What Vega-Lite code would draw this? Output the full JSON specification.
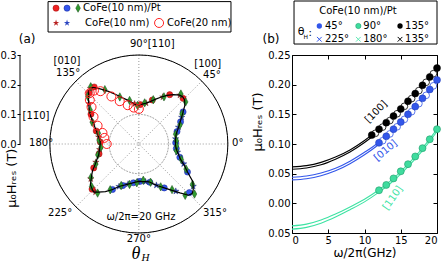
{
 "$schema": "https://vega.github.io/schema/vega-lite/v6.json",
 "padding": 0,
 "autosize": {"type": "pad"},
 "bounds": "flush",
 "spacing": 64,
 "config": {
  "font": "DejaVu Sans",
  "view": {"stroke": null},
  "axis": {"labelColor": "black", "titleColor": "black", "tickColor": "black", "domainColor": "black", "grid": false, "titleFontWeight": "normal", "labelFontSize": 10, "titleFontSize": 13, "labelFont": "DejaVu Sans", "titleFont": "DejaVu Sans"},
  "text": {"fontSize": 10, "color": "black", "font": "DejaVu Sans"}
 },
 "datasets": {
  "curve": [
   {"t":0,"r":0.123},{"t":5,"r":0.124},{"t":10,"r":0.126},{"t":15,"r":0.130},{"t":20,"r":0.139},{"t":25,"r":0.150},{"t":30,"r":0.163},{"t":35,"r":0.180},{"t":40,"r":0.202},{"t":44,"r":0.214},{"t":47,"r":0.217},{"t":50,"r":0.215},{"t":55,"r":0.203},{"t":60,"r":0.189},{"t":65,"r":0.174},{"t":70,"r":0.160},{"t":75,"r":0.148},{"t":80,"r":0.140},{"t":85,"r":0.135},{"t":90,"r":0.132},
   {"t":95,"r":0.134},{"t":100,"r":0.143},{"t":105,"r":0.154},{"t":110,"r":0.167},{"t":115,"r":0.184},{"t":120,"r":0.205},{"t":125,"r":0.227},{"t":129,"r":0.246},{"t":131,"r":0.250},{"t":134,"r":0.243},{"t":137,"r":0.232},{"t":140,"r":0.221},{"t":145,"r":0.204},{"t":150,"r":0.187},{"t":155,"r":0.170},{"t":160,"r":0.156},{"t":165,"r":0.145},{"t":170,"r":0.137},{"t":175,"r":0.131},{"t":180,"r":0.130},
   {"t":185,"r":0.132},{"t":190,"r":0.135},{"t":195,"r":0.140},{"t":200,"r":0.150},{"t":205,"r":0.162},{"t":210,"r":0.180},{"t":215,"r":0.195},{"t":220,"r":0.213},{"t":225,"r":0.220},{"t":227,"r":0.222},{"t":230,"r":0.212},{"t":235,"r":0.196},{"t":240,"r":0.177},{"t":245,"r":0.158},{"t":250,"r":0.148},{"t":255,"r":0.140},{"t":260,"r":0.134},{"t":265,"r":0.129},{"t":270,"r":0.126},
   {"t":275,"r":0.127},{"t":280,"r":0.129},{"t":285,"r":0.132},{"t":290,"r":0.143},{"t":295,"r":0.156},{"t":300,"r":0.171},{"t":305,"r":0.190},{"t":310,"r":0.215},{"t":314,"r":0.240},{"t":317,"r":0.245},{"t":320,"r":0.239},{"t":325,"r":0.222},{"t":330,"r":0.189},{"t":335,"r":0.168},{"t":340,"r":0.149},{"t":345,"r":0.138},{"t":350,"r":0.130},{"t":355,"r":0.125},{"t":360,"r":0.123}
  ],
  "pm": [
   {"t":5,"r":0.127,"s":"g"},{"t":15,"r":0.128,"s":"g"},{"t":25,"r":0.153,"s":"g"},{"t":35,"r":0.177,"s":"g"},{"t":42,"r":0.212,"s":"g"},{"t":50,"r":0.220,"s":"g"},{"t":62,"r":0.180,"s":"g"},{"t":72,"r":0.157,"s":"g"},{"t":82,"r":0.140,"s":"g"},{"t":92,"r":0.130,"s":"g"},{"t":102,"r":0.150,"s":"g"},{"t":112,"r":0.171,"s":"g"},{"t":122,"r":0.216,"s":"g"},{"t":130,"r":0.252,"s":"g"},{"t":137,"r":0.235,"s":"g"},{"t":145,"r":0.200,"s":"g"},{"t":155,"r":0.173,"s":"g"},{"t":165,"r":0.141,"s":"g"},{"t":175,"r":0.134,"s":"g"},{"t":185,"r":0.128,"s":"g"},{"t":195,"r":0.143,"s":"g"},{"t":205,"r":0.160,"s":"g"},{"t":215,"r":0.197,"s":"g"},{"t":222,"r":0.214,"s":"g"},{"t":230,"r":0.216,"s":"g"},{"t":238,"r":0.182,"s":"g"},{"t":247,"r":0.152,"s":"g"},{"t":257,"r":0.140,"s":"g"},{"t":267,"r":0.131,"s":"g"},{"t":277,"r":0.123,"s":"g"},{"t":287,"r":0.135,"s":"g"},{"t":297,"r":0.162,"s":"g"},{"t":306,"r":0.190,"s":"g"},{"t":312,"r":0.233,"s":"g"},{"t":318,"r":0.252,"s":"g"},{"t":323,"r":0.226,"s":"g"},{"t":332,"r":0.180,"s":"g"},{"t":340,"r":0.152,"s":"g"},{"t":350,"r":0.128,"s":"g"},{"t":357,"r":0.127,"s":"g"},
   {"t":46,"r":0.214,"s":"r"},{"t":58,"r":0.196,"s":"r"},{"t":73,"r":0.155,"s":"r"},{"t":88,"r":0.133,"s":"r"},{"t":128,"r":0.244,"s":"r"},{"t":134,"r":0.240,"s":"r"},{"t":148,"r":0.190,"s":"r"},{"t":163,"r":0.150,"s":"r"},{"t":177,"r":0.130,"s":"r"},{"t":194,"r":0.138,"s":"r"},{"t":208,"r":0.172,"s":"r"},{"t":224,"r":0.219,"s":"r"},
   {"t":2,"r":0.124,"s":"b"},{"t":18,"r":0.135,"s":"b"},{"t":28,"r":0.159,"s":"b"},{"t":36,"r":0.184,"s":"b"},{"t":240,"r":0.177,"s":"b"},{"t":249,"r":0.150,"s":"b"},{"t":262,"r":0.132,"s":"b"},{"t":272,"r":0.126,"s":"b"},{"t":286,"r":0.134,"s":"b"},{"t":300,"r":0.171,"s":"b"},{"t":316,"r":0.236,"s":"b"},{"t":330,"r":0.189,"s":"b"},{"t":342,"r":0.145,"s":"b"},{"t":353,"r":0.127,"s":"b"},
   {"t":50,"r":0.215,"s":"rs"},{"t":63,"r":0.178,"s":"rs"},{"t":80,"r":0.140,"s":"rs"},{"t":96,"r":0.136,"s":"rs"},{"t":131,"r":0.248,"s":"rs"},{"t":141,"r":0.216,"s":"rs"},{"t":155,"r":0.170,"s":"rs"},{"t":170,"r":0.137,"s":"rs"},{"t":188,"r":0.133,"s":"rs"},{"t":203,"r":0.157,"s":"rs"},{"t":216,"r":0.200,"s":"rs"},{"t":228,"r":0.218,"s":"rs"},
   {"t":8,"r":0.125,"s":"bs"},{"t":23,"r":0.145,"s":"bs"},{"t":32,"r":0.170,"s":"bs"},{"t":245,"r":0.158,"s":"bs"},{"t":255,"r":0.140,"s":"bs"},{"t":268,"r":0.127,"s":"bs"},{"t":280,"r":0.129,"s":"bs"},{"t":293,"r":0.151,"s":"bs"},{"t":308,"r":0.202,"s":"bs"},{"t":322,"r":0.232,"s":"bs"},{"t":336,"r":0.165,"s":"bs"},{"t":348,"r":0.133,"s":"bs"},
   {"t":90,"r":0.118,"s":"o"},{"t":98,"r":0.124,"s":"o"},{"t":106,"r":0.136,"s":"o"},{"t":114,"r":0.158,"s":"o"},{"t":120,"r":0.185,"s":"o"},{"t":126,"r":0.220,"s":"o"},{"t":130,"r":0.235,"s":"o"},{"t":134,"r":0.238,"s":"o"},{"t":138,"r":0.222,"s":"o"},{"t":142,"r":0.202,"s":"o"},{"t":149,"r":0.178,"s":"o"},{"t":156,"r":0.152,"s":"o"},{"t":163,"r":0.128,"s":"o"},{"t":170,"r":0.118,"s":"o"},{"t":180,"r":0.108,"s":"o"}
  ],
  "fit": [
   {"f":0,"v":0.0615,"s":"k1"},{"f":2,"v":0.0635,"s":"k1"},{"f":4,"v":0.069,"s":"k1"},{"f":6,"v":0.078,"s":"k1"},{"f":8,"v":0.090,"s":"k1"},{"f":10,"v":0.106,"s":"k1"},{"f":12,"v":0.125,"s":"k1"},{"f":14,"v":0.147,"s":"k1"},{"f":16,"v":0.172,"s":"k1"},{"f":18,"v":0.199,"s":"k1"},{"f":20,"v":0.228,"s":"k1"},
   {"f":0,"v":0.0575,"s":"k2"},{"f":2,"v":0.0595,"s":"k2"},{"f":4,"v":0.065,"s":"k2"},{"f":6,"v":0.0745,"s":"k2"},{"f":8,"v":0.0865,"s":"k2"},{"f":10,"v":0.1025,"s":"k2"},{"f":12,"v":0.1215,"s":"k2"},{"f":14,"v":0.1435,"s":"k2"},{"f":16,"v":0.1685,"s":"k2"},{"f":18,"v":0.1955,"s":"k2"},{"f":20,"v":0.2245,"s":"k2"},
   {"f":0,"v":0.044,"s":"b1"},{"f":2,"v":0.046,"s":"b1"},{"f":4,"v":0.051,"s":"b1"},{"f":6,"v":0.059,"s":"b1"},{"f":8,"v":0.071,"s":"b1"},{"f":10,"v":0.086,"s":"b1"},{"f":12,"v":0.103,"s":"b1"},{"f":14,"v":0.125,"s":"b1"},{"f":16,"v":0.150,"s":"b1"},{"f":18,"v":0.178,"s":"b1"},{"f":20,"v":0.209,"s":"b1"},
   {"f":0,"v":0.0395,"s":"b2"},{"f":2,"v":0.0415,"s":"b2"},{"f":4,"v":0.0465,"s":"b2"},{"f":6,"v":0.0548,"s":"b2"},{"f":8,"v":0.0668,"s":"b2"},{"f":10,"v":0.0818,"s":"b2"},{"f":12,"v":0.0995,"s":"b2"},{"f":14,"v":0.1215,"s":"b2"},{"f":16,"v":0.1468,"s":"b2"},{"f":18,"v":0.1748,"s":"b2"},{"f":20,"v":0.2058,"s":"b2"},
   {"f":0,"v":-0.038,"s":"g1"},{"f":2,"v":-0.035,"s":"g1"},{"f":4,"v":-0.028,"s":"g1"},{"f":6,"v":-0.018,"s":"g1"},{"f":8,"v":-0.006,"s":"g1"},{"f":10,"v":0.007,"s":"g1"},{"f":12,"v":0.023,"s":"g1"},{"f":14,"v":0.042,"s":"g1"},{"f":16,"v":0.066,"s":"g1"},{"f":18,"v":0.093,"s":"g1"},{"f":20,"v":0.125,"s":"g1"},
   {"f":0,"v":-0.0435,"s":"g2"},{"f":2,"v":-0.0405,"s":"g2"},{"f":4,"v":-0.0335,"s":"g2"},{"f":6,"v":-0.0232,"s":"g2"},{"f":8,"v":-0.0108,"s":"g2"},{"f":10,"v":0.0025,"s":"g2"},{"f":12,"v":0.0188,"s":"g2"},{"f":14,"v":0.038,"s":"g2"},{"f":16,"v":0.062,"s":"g2"},{"f":18,"v":0.089,"s":"g2"},{"f":20,"v":0.121,"s":"g2"}
  ],
  "fp": [
   {"f":11,"v":0.115,"s":"k"},{"f":12,"v":0.125,"s":"k"},{"f":13,"v":0.136,"s":"k"},{"f":14,"v":0.147,"s":"k"},{"f":15,"v":0.159,"s":"k"},{"f":16,"v":0.172,"s":"k"},{"f":17,"v":0.185,"s":"k"},{"f":18,"v":0.199,"s":"k"},{"f":19,"v":0.213,"s":"k"},{"f":20,"v":0.228,"s":"k"},
   {"f":11.5,"v":0.118,"s":"kw"},{"f":12.5,"v":0.1285,"s":"kw"},{"f":13.5,"v":0.1395,"s":"kw"},{"f":14.5,"v":0.151,"s":"kw"},{"f":15.5,"v":0.1635,"s":"kw"},{"f":16.5,"v":0.1765,"s":"kw"},{"f":17.5,"v":0.190,"s":"kw"},{"f":18.5,"v":0.204,"s":"kw"},{"f":19.5,"v":0.2185,"s":"kw"},
   {"f":12,"v":0.102,"s":"b"},{"f":13,"v":0.113,"s":"b"},{"f":14,"v":0.125,"s":"b"},{"f":15,"v":0.137,"s":"b"},{"f":16,"v":0.150,"s":"b"},{"f":17,"v":0.163,"s":"b"},{"f":18,"v":0.177,"s":"b"},{"f":19,"v":0.192,"s":"b"},{"f":20,"v":0.208,"s":"b"},
   {"f":12.5,"v":0.1055,"s":"bw"},{"f":13.5,"v":0.117,"s":"bw"},{"f":14.5,"v":0.129,"s":"bw"},{"f":15.5,"v":0.1415,"s":"bw"},{"f":16.5,"v":0.1545,"s":"bw"},{"f":17.5,"v":0.168,"s":"bw"},{"f":18.5,"v":0.182,"s":"bw"},{"f":19.5,"v":0.198,"s":"bw"},
   {"f":12,"v":0.022,"s":"g"},{"f":13,"v":0.031,"s":"g"},{"f":14,"v":0.042,"s":"g"},{"f":15,"v":0.054,"s":"g"},{"f":16,"v":0.066,"s":"g"},{"f":17,"v":0.079,"s":"g"},{"f":18,"v":0.093,"s":"g"},{"f":19,"v":0.108,"s":"g"},{"f":20,"v":0.125,"s":"g"}
  ]
 },
 "hconcat": [
  {
   "width": 208, "height": 178,
   "data": {"values": [{}]},
   "resolve": {"axis": {"x": "independent", "y": "independent"}},
   "layer": [
    {"data": {"name": "curve"}, "transform": [{"calculate": "datum.r*cos(datum.t*PI/180)", "as": "x"}, {"calculate": "datum.r*sin(datum.t*PI/180)", "as": "y"}],
     "mark": {"type": "line", "color": "black", "strokeWidth": 1.2, "opacity": 0},
     "encoding": {
      "x": {"field": "x", "type": "quantitative", "scale": {"domain": [-0.4, 0.3], "nice": false, "zero": false}, "axis": null},
      "y": {"field": "y", "type": "quantitative", "scale": {"domain": [-0.3, 0.3], "nice": false, "zero": false},
            "axis": {"orient": "left", "values": [0, 0.1, 0.2, 0.3], "format": ".1f", "domain": false, "tickSize": 3, "labelPadding": 1, "title": null}},
      "order": {"field": "t", "type": "quantitative"}
     }},
    {"data": {"values": [{"r": 0.1}, {"r": 0.2}]},
     "mark": {"type": "arc", "filled": false, "stroke": "#8c8c8c", "strokeWidth": 0.9, "strokeDash": [1, 2], "theta": 0, "theta2": 6.2832},
     "encoding": {
      "x": {"datum": 0, "type": "quantitative", "axis": null},
      "y": {"datum": 0, "type": "quantitative", "axis": null},
      "radius": {"field": "r", "type": "quantitative", "scale": {"type": "linear", "domain": [0, 0.3], "range": [0, 89], "zero": true}}
     }},
    {"mark": {"type": "rule", "stroke": "#8c8c8c", "strokeWidth": 0.9, "strokeDash": [1, 2]}, "encoding": {"x": {"datum": -0.3, "axis": null}, "x2": {"datum": 0.3}, "y": {"datum": 0, "axis": null}}},
    {"mark": {"type": "rule", "stroke": "#8c8c8c", "strokeWidth": 0.9, "strokeDash": [1, 2]}, "encoding": {"x": {"datum": 0, "axis": null}, "y": {"datum": -0.3, "axis": null}, "y2": {"datum": 0.3}}},
    {"mark": {"type": "rule", "stroke": "#8c8c8c", "strokeWidth": 0.9, "strokeDash": [1, 2]}, "encoding": {"x": {"datum": -0.2121, "axis": null}, "y": {"datum": -0.2121, "axis": null}, "x2": {"datum": 0.2121}, "y2": {"datum": 0.2121}}},
    {"mark": {"type": "rule", "stroke": "#8c8c8c", "strokeWidth": 0.9, "strokeDash": [1, 2]}, "encoding": {"x": {"datum": -0.2121, "axis": null}, "y": {"datum": 0.2121, "axis": null}, "x2": {"datum": 0.2121}, "y2": {"datum": -0.2121}}},
    {"mark": {"type": "arc", "filled": false, "stroke": "black", "strokeWidth": 1, "theta": 0, "theta2": 6.2832}, "encoding": {"x": {"datum": 0, "axis": null}, "y": {"datum": 0, "axis": null}, "radius": {"datum": 0.3}}},
    {"mark": {"type": "rule", "stroke": "black", "strokeWidth": 1}, "encoding": {"x": {"datum": -0.4, "axis": null}, "y": {"datum": 0, "axis": null}, "y2": {"datum": 0.3}}},
    {"data": {"name": "pm"}, "transform": [{"filter": "datum.s=='r'"}, {"calculate": "datum.r*cos(datum.t*PI/180)", "as": "x"}, {"calculate": "datum.r*sin(datum.t*PI/180)", "as": "y"}],
     "mark": {"type": "point", "shape": "circle", "filled": true, "fill": "#ee2222", "stroke": "#9a1010", "strokeWidth": 0.5, "size": 38, "opacity": 1},
     "encoding": {"x": {"field": "x", "type": "quantitative", "axis": null}, "y": {"field": "y", "type": "quantitative", "axis": null}}},
    {"data": {"name": "pm"}, "transform": [{"filter": "datum.s=='b'"}, {"calculate": "datum.r*cos(datum.t*PI/180)", "as": "x"}, {"calculate": "datum.r*sin(datum.t*PI/180)", "as": "y"}],
     "mark": {"type": "point", "shape": "circle", "filled": true, "fill": "#3355ee", "stroke": "#1a2a90", "strokeWidth": 0.5, "size": 38, "opacity": 1},
     "encoding": {"x": {"field": "x", "type": "quantitative", "axis": null}, "y": {"field": "y", "type": "quantitative", "axis": null}}},
    {"data": {"name": "pm"}, "transform": [{"filter": "datum.s=='rs'"}, {"calculate": "datum.r*cos(datum.t*PI/180)", "as": "x"}, {"calculate": "datum.r*sin(datum.t*PI/180)", "as": "y"}],
     "mark": {"type": "point", "shape": "M0,-1L0.2245,-0.309L0.951,-0.309L0.363,0.118L0.588,0.809L0,0.382L-0.588,0.809L-0.363,0.118L-0.951,-0.309L-0.2245,-0.309Z", "filled": true, "fill": "#b82020", "stroke": "#601010", "strokeWidth": 0.4, "size": 45, "opacity": 1},
     "encoding": {"x": {"field": "x", "type": "quantitative", "axis": null}, "y": {"field": "y", "type": "quantitative", "axis": null}}},
    {"data": {"name": "pm"}, "transform": [{"filter": "datum.s=='bs'"}, {"calculate": "datum.r*cos(datum.t*PI/180)", "as": "x"}, {"calculate": "datum.r*sin(datum.t*PI/180)", "as": "y"}],
     "mark": {"type": "point", "shape": "M0,-1L0.2245,-0.309L0.951,-0.309L0.363,0.118L0.588,0.809L0,0.382L-0.588,0.809L-0.363,0.118L-0.951,-0.309L-0.2245,-0.309Z", "filled": true, "fill": "#2a44c0", "stroke": "#101e60", "strokeWidth": 0.4, "size": 45, "opacity": 1},
     "encoding": {"x": {"field": "x", "type": "quantitative", "axis": null}, "y": {"field": "y", "type": "quantitative", "axis": null}}},
    {"data": {"name": "pm"}, "transform": [{"filter": "datum.s=='g'"}, {"calculate": "datum.r*cos(datum.t*PI/180)", "as": "x"}, {"calculate": "datum.r*sin(datum.t*PI/180)", "as": "y"}],
     "mark": {"type": "point", "shape": "M0,-1L0.55,0L0,1L-0.55,0Z", "filled": true, "fill": "#2f9a2f", "stroke": "#1a4a1a", "strokeWidth": 0.5, "size": 70, "opacity": 1},
     "encoding": {"x": {"field": "x", "type": "quantitative", "axis": null}, "y": {"field": "y", "type": "quantitative", "axis": null}}},
    {"data": {"name": "curve"}, "transform": [{"calculate": "datum.r*cos(datum.t*PI/180)", "as": "x"}, {"calculate": "datum.r*sin(datum.t*PI/180)", "as": "y"}],
     "mark": {"type": "line", "color": "black", "strokeWidth": 1.2, "interpolate": "linear"},
     "encoding": {"x": {"field": "x", "type": "quantitative", "axis": null}, "y": {"field": "y", "type": "quantitative", "axis": null}, "order": {"field": "t", "type": "quantitative"}}},
    {"data": {"name": "pm"}, "transform": [{"filter": "datum.s=='o'"}, {"calculate": "datum.r*cos(datum.t*PI/180)", "as": "x"}, {"calculate": "datum.r*sin(datum.t*PI/180)", "as": "y"}],
     "mark": {"type": "point", "shape": "circle", "filled": false, "stroke": "#ff2020", "strokeWidth": 1, "size": 81, "opacity": 1},
     "encoding": {"x": {"field": "x", "type": "quantitative", "axis": null}, "y": {"field": "y", "type": "quantitative", "axis": null}}},
    {"mark": {"type": "text", "text": "μ₀Hᵣₑₛ (T)", "angle": 270, "fontSize": 13}, "encoding": {"x": {"datum": -0.427, "axis": null}, "y": {"datum": -0.115, "axis": null}}},
    {"mark": {"type": "text", "text": "90°[110]", "align": "left"}, "encoding": {"x": {"datum": -0.03, "axis": null}, "y": {"datum": 0.336, "axis": null}}},
    {"mark": {"type": "text", "text": "[010]"}, "encoding": {"x": {"datum": -0.242, "axis": null}, "y": {"datum": 0.280, "axis": null}}},
    {"mark": {"type": "text", "text": "135°"}, "encoding": {"x": {"datum": -0.238, "axis": null}, "y": {"datum": 0.239, "axis": null}}},
    {"mark": {"type": "text", "text": "[100]"}, "encoding": {"x": {"datum": 0.232, "axis": null}, "y": {"datum": 0.270, "axis": null}}},
    {"mark": {"type": "text", "text": "45°"}, "encoding": {"x": {"datum": 0.246, "axis": null}, "y": {"datum": 0.233, "axis": null}}},
    {"mark": {"type": "text", "text": "[11̄0]"}, "encoding": {"x": {"datum": -0.346, "axis": null}, "y": {"datum": 0.094, "axis": null}}},
    {"mark": {"type": "text", "text": "180°"}, "encoding": {"x": {"datum": -0.329, "axis": null}, "y": {"datum": 0.003, "axis": null}}},
    {"mark": {"type": "text", "text": "0°"}, "encoding": {"x": {"datum": 0.333, "axis": null}, "y": {"datum": 0.003, "axis": null}}},
    {"mark": {"type": "text", "text": "225°"}, "encoding": {"x": {"datum": -0.265, "axis": null}, "y": {"datum": -0.232, "axis": null}}},
    {"mark": {"type": "text", "text": "315°"}, "encoding": {"x": {"datum": 0.256, "axis": null}, "y": {"datum": -0.232, "axis": null}}},
    {"mark": {"type": "text", "text": "270°"}, "encoding": {"x": {"datum": 0.0, "axis": null}, "y": {"datum": -0.320, "axis": null}}},
    {"mark": {"type": "text", "text": "ω/2π=20 GHz"}, "encoding": {"x": {"datum": 0.007, "axis": null}, "y": {"datum": -0.246, "axis": null}}},
    {"mark": {"type": "text", "text": "(a)", "fontSize": 12}, "encoding": {"x": {"datum": -0.376, "axis": null}, "y": {"datum": 0.354, "axis": null}}},
    {"mark": {"type": "text", "text": "θ", "font": "Liberation Serif", "fontStyle": "italic", "fontSize": 18}, "encoding": {"x": {"datum": -0.01, "axis": null}, "y": {"datum": -0.372, "axis": null}}},
    {"mark": {"type": "text", "text": "H", "font": "Liberation Serif", "fontStyle": "italic", "fontSize": 11}, "encoding": {"x": {"datum": 0.022, "axis": null}, "y": {"datum": -0.385, "axis": null}}},
    {"mark": {"type": "rect", "fill": "white", "stroke": "black", "strokeWidth": 1}, "encoding": {"x": {"datum": -0.3056, "axis": null}, "x2": {"datum": 0.310}, "y": {"datum": 0.3775, "axis": null}, "y2": {"datum": 0.480}}},
    {"mark": {"type": "point", "shape": "circle", "filled": true, "fill": "#ee2222", "stroke": "#9a1010", "strokeWidth": 0.5, "size": 38, "opacity": 1}, "encoding": {"x": {"datum": -0.2787, "axis": null}, "y": {"datum": 0.458, "axis": null}}},
    {"mark": {"type": "point", "shape": "circle", "filled": true, "fill": "#3355ee", "stroke": "#1a2a90", "strokeWidth": 0.5, "size": 38, "opacity": 1}, "encoding": {"x": {"datum": -0.2417, "axis": null}, "y": {"datum": 0.458, "axis": null}}},
    {"mark": {"type": "point", "shape": "M0,-1L0.55,0L0,1L-0.55,0Z", "filled": true, "fill": "#2f9a2f", "stroke": "#1a4a1a", "strokeWidth": 0.5, "size": 70, "opacity": 1}, "encoding": {"x": {"datum": -0.2046, "axis": null}, "y": {"datum": 0.458, "axis": null}}},
    {"mark": {"type": "text", "text": "CoFe(10 nm)/Pt", "align": "left"}, "encoding": {"x": {"datum": -0.1878, "axis": null}, "y": {"datum": 0.458, "axis": null}}},
    {"mark": {"type": "point", "shape": "M0,-1L0.2245,-0.309L0.951,-0.309L0.363,0.118L0.588,0.809L0,0.382L-0.588,0.809L-0.363,0.118L-0.951,-0.309L-0.2245,-0.309Z", "filled": true, "fill": "#b82020", "size": 45, "opacity": 1}, "encoding": {"x": {"datum": -0.2787, "axis": null}, "y": {"datum": 0.408, "axis": null}}},
    {"mark": {"type": "point", "shape": "M0,-1L0.2245,-0.309L0.951,-0.309L0.363,0.118L0.588,0.809L0,0.382L-0.588,0.809L-0.363,0.118L-0.951,-0.309L-0.2245,-0.309Z", "filled": true, "fill": "#2a44c0", "size": 45, "opacity": 1}, "encoding": {"x": {"datum": -0.2417, "axis": null}, "y": {"datum": 0.408, "axis": null}}},
    {"mark": {"type": "text", "text": "CoFe(10 nm)", "align": "left"}, "encoding": {"x": {"datum": -0.181, "axis": null}, "y": {"datum": 0.408, "axis": null}}},
    {"mark": {"type": "point", "shape": "circle", "filled": false, "stroke": "#ff2020", "strokeWidth": 1, "size": 81, "opacity": 1}, "encoding": {"x": {"datum": 0.068, "axis": null}, "y": {"datum": 0.408, "axis": null}}},
    {"mark": {"type": "text", "text": "CoFe(20 nm)", "align": "left"}, "encoding": {"x": {"datum": 0.095, "axis": null}, "y": {"datum": 0.408, "axis": null}}}
   ]
  },
  {
   "width": 145, "height": 178,
   "data": {"values": [{}]},
   "resolve": {"axis": {"x": "independent", "y": "independent"}},
   "layer": [
    {"data": {"name": "fit"}, "transform": [{"filter": "datum.s=='k1'||datum.s=='k2'"}],
     "mark": {"type": "line", "color": "black", "strokeWidth": 1.1, "interpolate": "monotone"},
     "encoding": {
      "x": {"field": "f", "type": "quantitative", "scale": {"domain": [0, 20], "nice": false, "zero": false},
            "axis": {"orient": "bottom", "values": [0, 5, 10, 15, 20], "tickSize": -4, "labelPadding": 6, "domain": true, "title": "ω/2π(GHz)", "titleFontSize": 12, "titlePadding": 2}},
      "y": {"field": "v", "type": "quantitative", "scale": {"domain": [-0.05, 0.25], "nice": false, "zero": false},
            "axis": {"orient": "left", "values": [-0.05, 0, 0.05, 0.1, 0.15, 0.2, 0.25], "labelExpr": "format(abs(datum.value), '.2f')", "tickSize": -4, "labelPadding": 6, "domain": true, "title": null}},
      "detail": {"field": "s"}
     }},
    {"data": {"name": "fit"}, "transform": [{"filter": "datum.s=='b1'||datum.s=='b2'"}],
     "mark": {"type": "line", "color": "#3256ea", "strokeWidth": 1.1, "interpolate": "monotone"},
     "encoding": {"x": {"field": "f", "type": "quantitative", "axis": null}, "y": {"field": "v", "type": "quantitative", "axis": null}, "detail": {"field": "s"}}},
    {"data": {"name": "fit"}, "transform": [{"filter": "datum.s=='g1'||datum.s=='g2'"}],
     "mark": {"type": "line", "color": "#3de3a3", "strokeWidth": 1.1, "interpolate": "monotone"},
     "encoding": {"x": {"field": "f", "type": "quantitative", "axis": null}, "y": {"field": "v", "type": "quantitative", "axis": null}, "detail": {"field": "s"}}},
    {"data": {"name": "fp"}, "transform": [{"filter": "datum.s=='kw'"}],
     "mark": {"type": "point", "shape": "circle", "fill": "white", "stroke": "black", "strokeWidth": 0.8, "size": 45, "opacity": 1},
     "encoding": {"x": {"field": "f", "type": "quantitative", "axis": null}, "y": {"field": "v", "type": "quantitative", "axis": null}}},
    {"data": {"name": "fp"}, "transform": [{"filter": "datum.s=='bw'"}],
     "mark": {"type": "point", "shape": "circle", "fill": "white", "stroke": "#3256ea", "strokeWidth": 0.8, "size": 45, "opacity": 1},
     "encoding": {"x": {"field": "f", "type": "quantitative", "axis": null}, "y": {"field": "v", "type": "quantitative", "axis": null}}},
    {"data": {"name": "fp"}, "transform": [{"filter": "datum.s=='k'"}],
     "mark": {"type": "point", "shape": "circle", "filled": true, "fill": "black", "stroke": "black", "strokeWidth": 0.5, "size": 49, "opacity": 1},
     "encoding": {
      "x": {"field": "f", "type": "quantitative", "axis": {"orient": "top", "values": [0, 5, 10, 15, 20], "tickSize": -4, "labels": false, "title": null, "domain": true}},
      "y": {"field": "v", "type": "quantitative", "axis": {"orient": "right", "values": [-0.05, 0, 0.05, 0.1, 0.15, 0.2, 0.25], "tickSize": -4, "labels": false, "title": null, "domain": true}}}},
    {"data": {"name": "fp"}, "transform": [{"filter": "datum.s=='b'"}],
     "mark": {"type": "point", "shape": "circle", "filled": true, "fill": "#3256ea", "stroke": "#1f3ab0", "strokeWidth": 0.5, "size": 49, "opacity": 1},
     "encoding": {"x": {"field": "f", "type": "quantitative", "axis": null}, "y": {"field": "v", "type": "quantitative", "axis": null}}},
    {"data": {"name": "fp"}, "transform": [{"filter": "datum.s=='g'"}],
     "mark": {"type": "point", "shape": "circle", "filled": true, "fill": "#3fdc9e", "stroke": "#1f9a6a", "strokeWidth": 0.6, "size": 49, "opacity": 1},
     "encoding": {"x": {"field": "f", "type": "quantitative", "axis": null}, "y": {"field": "v", "type": "quantitative", "axis": null}}},
    {"mark": {"type": "text", "text": "μ₀Hᵣₑₛ (T)", "angle": 270, "fontSize": 13}, "encoding": {"x": {"datum": -4.69, "axis": null}, "y": {"datum": 0.137, "axis": null}}},
    {"mark": {"type": "text", "text": "[100]", "angle": -45}, "encoding": {"x": {"datum": 11.6, "axis": null}, "y": {"datum": 0.154, "axis": null}}},
    {"mark": {"type": "text", "text": "[010]", "angle": -40, "color": "#3256ea"}, "encoding": {"x": {"datum": 12.9, "axis": null}, "y": {"datum": 0.089, "axis": null}}},
    {"mark": {"type": "text", "text": "[110]", "angle": -55, "color": "#3de3a3"}, "encoding": {"x": {"datum": 13.9, "axis": null}, "y": {"datum": 0.009, "axis": null}}},
    {"mark": {"type": "text", "text": "(b)", "fontSize": 12}, "encoding": {"x": {"datum": -2.9, "axis": null}, "y": {"datum": 0.277, "axis": null}}},
    {"mark": {"type": "rect", "fill": "white", "stroke": "black", "strokeWidth": 1}, "encoding": {"x": {"datum": 0.28, "axis": null}, "x2": {"datum": 20.0}, "y": {"datum": 0.2685, "axis": null}, "y2": {"datum": 0.341}}},
    {"mark": {"type": "text", "text": "CoFe(10 nm)/Pt"}, "encoding": {"x": {"datum": 9.1, "axis": null}, "y": {"datum": 0.324, "axis": null}}},
    {"mark": {"type": "text", "text": "θ", "fontSize": 11}, "encoding": {"x": {"datum": 1.24, "axis": null}, "y": {"datum": 0.288, "axis": null}}},
    {"mark": {"type": "text", "text": "H", "fontSize": 6}, "encoding": {"x": {"datum": 1.9, "axis": null}, "y": {"datum": 0.281, "axis": null}}},
    {"mark": {"type": "text", "text": ":"}, "encoding": {"x": {"datum": 2.5, "axis": null}, "y": {"datum": 0.287, "axis": null}}},
    {"mark": {"type": "point", "shape": "circle", "filled": true, "fill": "#3256ea", "size": 28, "opacity": 1}, "encoding": {"x": {"datum": 3.77, "axis": null}, "y": {"datum": 0.2989, "axis": null}}},
    {"mark": {"type": "point", "shape": "circle", "filled": true, "fill": "#3fdc9e", "stroke": "#1f9a6a", "strokeWidth": 0.5, "size": 28, "opacity": 1}, "encoding": {"x": {"datum": 9.15, "axis": null}, "y": {"datum": 0.2989, "axis": null}}},
    {"mark": {"type": "point", "shape": "circle", "filled": true, "fill": "black", "size": 28, "opacity": 1}, "encoding": {"x": {"datum": 14.9, "axis": null}, "y": {"datum": 0.2989, "axis": null}}},
    {"mark": {"type": "text", "text": "45°", "align": "left"}, "encoding": {"x": {"datum": 4.55, "axis": null}, "y": {"datum": 0.2989, "axis": null}}},
    {"mark": {"type": "text", "text": "90°", "align": "left"}, "encoding": {"x": {"datum": 9.84, "axis": null}, "y": {"datum": 0.2989, "axis": null}}},
    {"mark": {"type": "text", "text": "135°", "align": "left"}, "encoding": {"x": {"datum": 15.59, "axis": null}, "y": {"datum": 0.2989, "axis": null}}},
    {"mark": {"type": "point", "shape": "M-1,-1L1,1M-1,1L1,-1", "filled": false, "stroke": "#3256ea", "strokeWidth": 1, "size": 22, "opacity": 1}, "encoding": {"x": {"datum": 3.77, "axis": null}, "y": {"datum": 0.2765, "axis": null}}},
    {"mark": {"type": "point", "shape": "M-1,-1L1,1M-1,1L1,-1", "filled": false, "stroke": "#5fe8b4", "strokeWidth": 1, "size": 22, "opacity": 1}, "encoding": {"x": {"datum": 9.15, "axis": null}, "y": {"datum": 0.2765, "axis": null}}},
    {"mark": {"type": "point", "shape": "M-1,-1L1,1M-1,1L1,-1", "filled": false, "stroke": "black", "strokeWidth": 1, "size": 22, "opacity": 1}, "encoding": {"x": {"datum": 14.9, "axis": null}, "y": {"datum": 0.2765, "axis": null}}},
    {"mark": {"type": "text", "text": "225°", "align": "left"}, "encoding": {"x": {"datum": 4.55, "axis": null}, "y": {"datum": 0.2765, "axis": null}}},
    {"mark": {"type": "text", "text": "180°", "align": "left"}, "encoding": {"x": {"datum": 9.84, "axis": null}, "y": {"datum": 0.2765, "axis": null}}},
    {"mark": {"type": "text", "text": "135°", "align": "left"}, "encoding": {"x": {"datum": 15.59, "axis": null}, "y": {"datum": 0.2765, "axis": null}}}
   ]
  }
 ]
}
